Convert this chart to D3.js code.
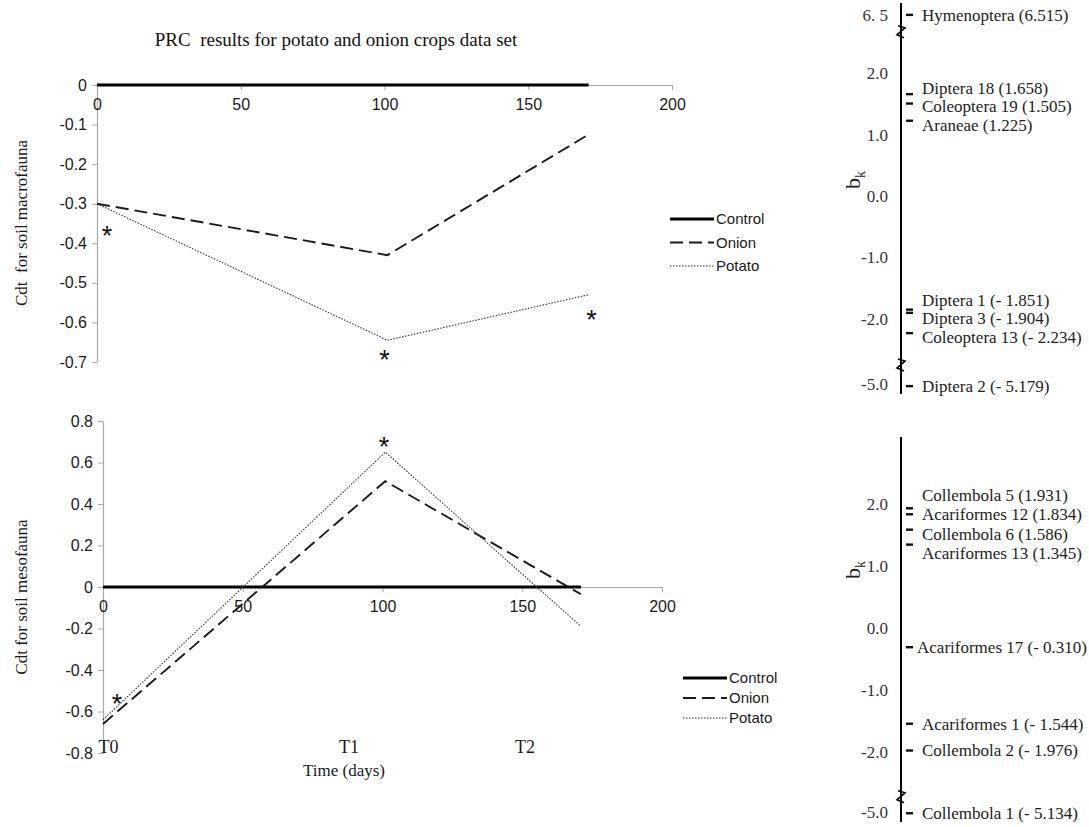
<!DOCTYPE html>
<html><head><meta charset="utf-8">
<script src="https://cdn.jsdelivr.net/npm/d3@7"></script>
<style>body{margin:0;background:#fff} svg{display:block}</style>
</head><body><svg id="c" width="1089" height="827"></svg>
<script>
// ---------- data ----------
const days = [0, 101, 171];
const timeLabels = ["T0", "T1", "T2"];
const timeLabelDays = [2, 88, 151];
const seriesNames = ["Control", "Onion", "Potato"];
const macroControl = [0, 0, 0];
const macroOnion = [-0.30, -0.43, -0.125];
const macroPotato = [-0.30, -0.645, -0.53];
const mesoControl = [0, 0, 0];
const mesoOnion = [-0.66, 0.51, -0.035];
const mesoPotato = [-0.64, 0.65, -0.19];
const dayTicks = [0, 50, 100, 150, 200];
const macroCdtTicks = [0, -0.1, -0.2, -0.3, -0.4, -0.5, -0.6, -0.7];
const mesoCdtTicks = [0.8, 0.6, 0.4, 0.2, 0, -0.2, -0.4, -0.6, -0.8];
// significance asterisks (day, Cdt)
const macroStarDays = [3.5, 100, 172];
const macroStarCdt = [-0.364, -0.677, -0.576];
const mesoStarDays = [5, 100.5];
const mesoStarCdt = [-0.53, 0.71];

const macroTaxa = ["Hymenoptera", "Diptera 18", "Coleoptera 19", "Araneae", "Diptera 1", "Diptera 3", "Coleoptera 13", "Diptera 2"];
const macroBk = [6.515, 1.658, 1.505, 1.225, -1.851, -1.904, -2.234, -5.179];
const mesoTaxa = ["Collembola 5", "Acariformes 12", "Collembola 6", "Acariformes 13", "Acariformes 17", "Acariformes 1", "Collembola 2", "Collembola 1"];
const mesoBk = [1.931, 1.834, 1.586, 1.345, -0.310, -1.544, -1.976, -5.134];
const macroBkTicks = [6.5, 2, 1, 0, -1, -2, -5];
const macroBkTickLabels = ["6. 5", "2.0", "1.0", "0.0", "-1.0", "-2.0", "-5.0"];
const mesoBkTicks = [2, 1, 0, -1, -2, -5];
const mesoBkTickLabels = ["2.0", "1.0", "0.0", "-1.0", "-2.0", "-5.0"];

// ---------- styles ----------
const SANS = "'Liberation Sans', Arial, sans-serif";
const SERIF = "'Liberation Serif', 'Times New Roman', serif";
const seriesStyle = {
  Control: {stroke: "#000", width: 3.2, dash: null},
  Onion: {stroke: "#1a1a1a", width: 1.9, dash: "13,6"},
  Potato: {stroke: "#333", width: 1.1, dash: "1.5,1.5"}
};

const svg = d3.select("#c");

svg.append("text").attr("x", 336).attr("y", 46).attr("text-anchor", "middle")
  .style("font-family", SERIF).style("font-size", "19px").attr("fill", "#111")
  .attr("xml:space", "preserve")
  .text("PRC  results for potato and onion crops data set");

function drawPrc(cfg) {
  const x = d3.scaleLinear().domain([0, 200]).range(cfg.xRange);
  const y = d3.scaleLinear().domain(cfg.yDomain).range(cfg.yRange);
  const g = svg.append("g");

  const yAx = g.append("g").attr("transform", `translate(${cfg.xRange[0]},0)`)
    .call(d3.axisLeft(y).tickValues(cfg.yTicks).tickSize(5).tickSizeOuter(0).tickPadding(5)
      .tickFormat(d => d === 0 ? "0" : d.toFixed(1)));
  const xAx = g.append("g").attr("transform", `translate(0,${y(0)})`)
    .call(d3.axisBottom(x).tickValues(dayTicks).tickSize(5).tickSizeOuter(0).tickPadding(9)
      .tickFormat(d3.format("d")));
  [yAx, xAx].forEach(a => {
    a.select(".domain").attr("stroke", "#a8a8a8").attr("stroke-width", 1.2);
    a.selectAll(".tick line").attr("stroke", "#a8a8a8");
    a.selectAll("text").style("font-family", SANS).style("font-size", "16px").attr("fill", "#1a1a1a");
  });

  const line = d3.line().x((d, i) => x(days[i])).y(d => y(d));
  cfg.series.forEach((vals, k) => {
    const st = seriesStyle[seriesNames[k]];
    g.append("path").datum(vals).attr("d", line).attr("fill", "none")
      .attr("stroke", st.stroke).attr("stroke-width", st.width)
      .attr("stroke-dasharray", st.dash);
  });

  g.selectAll(".star").data(cfg.starDays).enter().append("text")
    .attr("x", d => x(d)).attr("y", (d, i) => y(cfg.starCdt[i]))
    .attr("dy", "0.6em").attr("text-anchor", "middle")
    .style("font-family", SANS).style("font-size", "27px").attr("fill", "#111").text("*");

  g.append("text")
    .attr("transform", `translate(${cfg.titleX},${cfg.titleY}) rotate(-90)`)
    .attr("text-anchor", "middle").attr("dy", "0.35em")
    .attr("xml:space", "preserve")
    .style("font-family", SERIF).style("font-size", "17px").attr("fill", "#1a1a1a")
    .text(cfg.title);

  const lg = g.append("g").attr("transform", `translate(${cfg.legend[0]},${cfg.legend[1]})`);
  seriesNames.forEach((nm, k) => {
    const st = seriesStyle[nm];
    lg.append("line").attr("x1", 0).attr("x2", 44).attr("y1", k * cfg.legendGap).attr("y2", k * cfg.legendGap)
      .attr("stroke", st.stroke).attr("stroke-width", st.width).attr("stroke-dasharray", st.dash);
    lg.append("text").attr("x", 46).attr("y", k * cfg.legendGap).attr("dy", "0.35em")
      .style("font-family", SANS).style("font-size", "15px").attr("fill", "#1a1a1a").text(nm);
  });
  return {x, y};
}

drawPrc({
  xRange: [97, 672], yDomain: [-0.7, 0], yRange: [362, 85], yTicks: macroCdtTicks,
  series: [macroControl, macroOnion, macroPotato],
  starDays: macroStarDays, starCdt: macroStarCdt,
  title: "Cdt  for soil macrofauna", titleX: 21, titleY: 223,
  legend: [670, 219], legendGap: 23.5
});
const meso = drawPrc({
  xRange: [103, 662], yDomain: [-0.8, 0.8], yRange: [753, 421], yTicks: mesoCdtTicks,
  series: [mesoControl, mesoOnion, mesoPotato],
  starDays: mesoStarDays, starCdt: mesoStarCdt,
  title: "Cdt for soil mesofauna", titleX: 21, titleY: 597,
  legend: [683, 678], legendGap: 20
});

svg.selectAll(".tlab").data(timeLabels).enter().append("text")
  .attr("x", (d, i) => meso.x(timeLabelDays[i])).attr("y", 753).attr("text-anchor", "middle")
  .style("font-family", SERIF).style("font-size", "18px").attr("fill", "#1a1a1a").text(d => d);
svg.append("text").attr("x", 344).attr("y", 776).attr("text-anchor", "middle")
  .style("font-family", SERIF).style("font-size", "17px").attr("fill", "#1a1a1a").text("Time (days)");

// ---------- b_k panels ----------
function fmtBk(v) {
  return v >= 0 ? `(${v.toFixed(3)})` : `(- ${Math.abs(v).toFixed(3)})`;
}
function dodge(targets, gap) {
  let groups = targets.map(t => ({ts: [t], top: t}));
  let changed = true;
  while (changed) {
    changed = false;
    groups.forEach(g => { const m = d3.mean(g.ts); g.top = m - (g.ts.length - 1) * gap / 2; });
    for (let i = 1; i < groups.length; i++) {
      const a = groups[i - 1], b = groups[i];
      if (a.top + (a.ts.length - 1) * gap + gap > b.top) {
        a.ts = a.ts.concat(b.ts); groups.splice(i, 1); changed = true; break;
      }
    }
  }
  const out = [];
  groups.forEach(g => { const m = d3.mean(g.ts); const t0 = m - (g.ts.length - 1) * gap / 2; g.ts.forEach((_, k) => out.push(t0 + k * gap)); });
  return out;
}
function drawBk(cfg) {
  const y = d3.scaleLinear().domain(cfg.domain).range(cfg.range);
  const g = svg.append("g");
  const ax = 901;
  g.append("line").attr("x1", ax).attr("x2", ax).attr("y1", cfg.axisSpan[0]).attr("y2", cfg.axisSpan[1])
    .attr("stroke", "#000").attr("stroke-width", 2);
  cfg.breaks.forEach(v => {
    const by = y(v);
    g.append("path")
      .attr("d", `M${ax - 3},${by - 6} L${ax + 4},${by - 4} L${ax - 4},${by + 3} L${ax + 3},${by + 6}`)
      .attr("fill", "none").attr("stroke", "#000").attr("stroke-width", 1.6);
  });
  g.selectAll(".tk").data(cfg.ticks).enter().append("text")
    .attr("x", 888).attr("y", d => y(d)).attr("dy", "0.35em").attr("text-anchor", "end")
    .attr("xml:space", "preserve")
    .style("font-family", SERIF).style("font-size", "17px").attr("fill", "#333")
    .text((d, i) => cfg.tickLabels[i]);
  g.selectAll(".dash").data(cfg.bk).enter().append("line")
    .attr("x1", 906).attr("x2", 913).attr("y1", d => y(d)).attr("y2", d => y(d))
    .attr("stroke", "#111").attr("stroke-width", 2.4);
  const ly = dodge(cfg.bk.map(v => y(v)), cfg.gap);
  const labs = g.selectAll(".lab").data(cfg.taxa).enter().append("text")
    .attr("x", 922).attr("y", (d, i) => ly[i]).attr("dy", "0.35em")
    .style("font-family", SERIF).style("font-size", "17px").attr("fill", "#222")
    .text((d, i) => `${d} ${fmtBk(cfg.bk[i])}`);
  // keep long labels inside the page
  labs.each(function () {
    const w = this.getComputedTextLength();
    if (922 + w > 1087) d3.select(this).attr("x", Math.max(914, 1087 - w));
  });
  const t = g.append("text").attr("transform", `translate(853,${cfg.bkLabelY}) rotate(-90)`)
    .attr("text-anchor", "middle").attr("dy", "0.3em")
    .style("font-family", SERIF).style("font-size", "22px").attr("fill", "#222");
  t.append("tspan").text("b");
  t.append("tspan").attr("dy", 5).style("font-size", "14px").text("k");
}
drawBk({
  taxa: macroTaxa, bk: macroBk, ticks: macroBkTicks, tickLabels: macroBkTickLabels,
  domain: [-5.0, -2.6, 2.4, 6.5], range: [384, 355.6, 48.6, 15],
  axisSpan: [3, 394], breaks: [4.45, -3.4], gap: 18.5, bkLabelY: 180
});
drawBk({
  taxa: mesoTaxa, bk: mesoBk, ticks: mesoBkTicks, tickLabels: mesoBkTickLabels,
  domain: [-5.0, -2.6, 3.1], range: [812, 789.2, 435.8],
  axisSpan: [437, 822], breaks: [-3.4], gap: 19.5, bkLabelY: 570
});
</script></body></html>
